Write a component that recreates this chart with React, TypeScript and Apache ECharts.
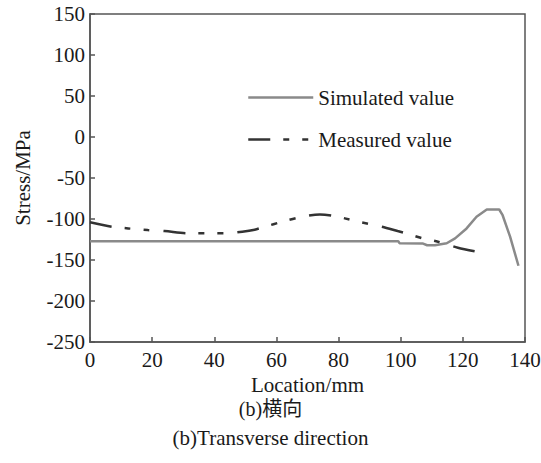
import React, { useEffect, useRef } from "react";
import * as echarts from "echarts";

const xTicks = [0, 20, 40, 60, 80, 100, 120, 140];
const yTicks = [-250, -200, -150, -100, -50, 0, 50, 100, 150];

const simX = [0, 99.2, 99.6, 107, 108.5, 111, 114.8, 117.5, 121.2, 124.4, 127.7, 131.7, 132.8, 135.2, 137.9];
const simY = [-127, -127, -129.5, -129.8, -132, -132, -129.6, -123.6, -111.5, -97.3, -88.4, -88.4, -95.4, -121.6, -157];

const measX = [0, 7, 12.3, 18.6, 24, 31.5, 37.3, 43.7, 49, 53, 56.3, 61.8, 68.4, 74, 78, 82, 87.3, 94, 99, 103, 107, 112, 118.4, 124.4];
const measY = [-104, -109.4, -111.5, -113.5, -114.7, -117.5, -117.5, -117.5, -115.5, -113, -109.4, -103.4, -97.3, -94.5, -96, -99.2, -104, -109.4, -114.7, -119, -123.6, -127.7, -135, -139.8];

const seriesNames = ["Simulated value", "Measured value"];
const captions = ["(b)横向", "(b)Transverse direction"];

const FONT = "Liberation Serif";
const TXT = "#1a1a1a";

export default function App() {
  const ref = useRef<HTMLDivElement>(null);
  useEffect(() => {
    if (!ref.current) return;
    const chart = echarts.init(ref.current, undefined, { renderer: "svg" });
    const frame = "#555";
    const hidden = { color: "rgba(0,0,0,0)", borderColor: "rgba(0,0,0,0)", borderWidth: 0, opacity: 0 };
    chart.setOption({
      animation: false,
      backgroundColor: "#fff",
      textStyle: { fontFamily: FONT },
      grid: {
        left: 90,
        right: 16,
        top: 14,
        bottom: 121,
        show: true,
        borderColor: frame,
        borderWidth: 1.5,
        containLabel: false,
        outerBoundsMode: "none",
      },
      legend: {
        orient: "vertical",
        left: 247,
        top: 87,
        padding: 0,
        itemWidth: 65,
        itemHeight: 20,
        itemGap: 21,
        textStyle: { fontFamily: FONT, fontSize: 21, color: TXT },
        data: [
          { name: seriesNames[0], itemStyle: hidden, lineStyle: { color: "#8a8a8a", width: 2.5, type: "solid" } },
          { name: seriesNames[1], itemStyle: hidden, lineStyle: { color: "#333", width: 2.5, type: [22, 13, 6, 13, 6, 14] } },
        ],
      },
      xAxis: {
        type: "value",
        min: 0,
        max: 140,
        interval: 20,
        name: "Location/mm",
        nameLocation: "middle",
        nameGap: 30,
        nameTextStyle: { fontFamily: FONT, fontSize: 21, color: TXT },
        axisLine: { show: true, onZero: false, lineStyle: { color: frame, width: 1.5 } },
        axisTick: { show: true, inside: true, length: 5, lineStyle: { color: frame, width: 1.5 } },
        axisLabel: {
          fontFamily: FONT,
          fontSize: 21,
          color: TXT,
          margin: 7,
          formatter: (v: number) => (xTicks.includes(v) ? String(v) : ""),
        },
        splitLine: { show: false },
      },
      yAxis: {
        type: "value",
        min: -250,
        max: 150,
        interval: 50,
        name: "Stress/MPa",
        nameLocation: "middle",
        nameGap: 57,
        nameRotate: 90,
        nameTextStyle: { fontFamily: FONT, fontSize: 21, color: TXT },
        axisLine: { show: true, onZero: false, lineStyle: { color: frame, width: 1.5 } },
        axisTick: { show: true, inside: true, length: 5, lineStyle: { color: frame, width: 1.5 } },
        axisLabel: {
          fontFamily: FONT,
          fontSize: 21,
          color: TXT,
          margin: 5,
          formatter: (v: number) => (yTicks.includes(v) ? String(v) : ""),
        },
        splitLine: { show: false },
      },
      series: [
        {
          name: seriesNames[0],
          type: "line",
          symbol: "none",
          showSymbol: false,
          data: simX.map((x, i) => [x, simY[i]]),
          lineStyle: { color: "#8a8a8a", width: 2.5, type: "solid" },
          itemStyle: { color: "#8a8a8a" },
          z: 3,
        },
        {
          name: seriesNames[1],
          type: "line",
          symbol: "none",
          showSymbol: false,
          smooth: 0.3,
          data: measX.map((x, i) => [x, measY[i]]),
          lineStyle: { color: "#333", width: 2.5, type: [22, 13, 6, 13, 6, 14] },
          itemStyle: { color: "#333" },
          z: 4,
        },
      ],
      graphic: [
        {
          type: "text",
          left: "center",
          top: 399,
          style: { text: captions[0], fontFamily: "Liberation Serif, Noto Sans CJK SC", fontSize: 20, fill: TXT },
        },
        {
          type: "text",
          left: "center",
          top: 427,
          style: { text: captions[1], fontFamily: FONT, fontSize: 21, fill: TXT },
        },
      ],
    });
    return () => chart.dispose();
  }, []);
  return (
    <div
      ref={ref}
      style={{ position: "fixed", left: 0, top: 0, width: 541, height: 463, background: "#fff" }}
    />
  );
}
